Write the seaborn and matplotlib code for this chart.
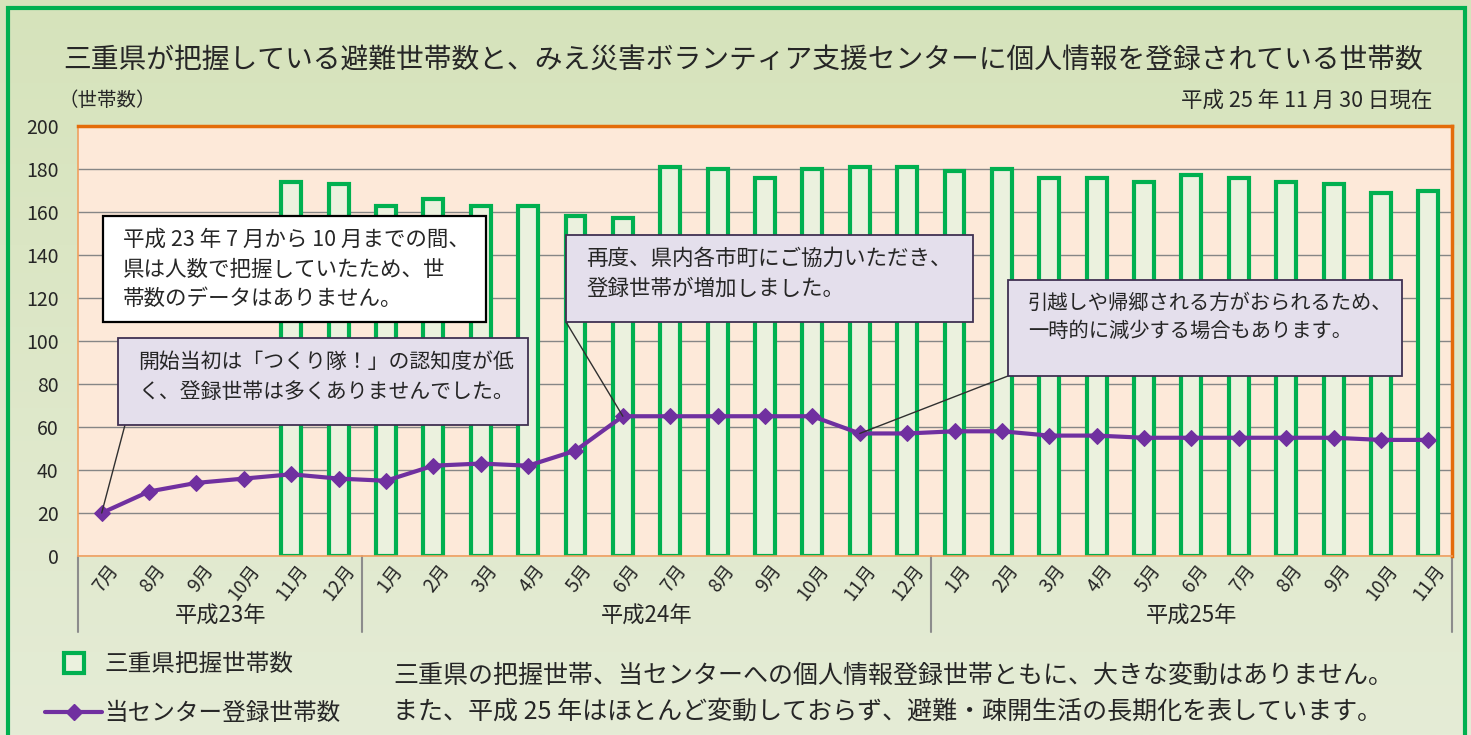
import numpy as np
import pandas as pd
import matplotlib.pyplot as plt
import seaborn as sns
from matplotlib.lines import Line2D
from matplotlib.patches import Rectangle, ConnectionPatch
from matplotlib.colors import LinearSegmentedColormap
import matplotlib.transforms as mtrans

sns.set_style("white")
plt.rcParams['font.family'] = ['Noto Sans CJK JP', 'DejaVu Sans']

# data
months = ["7月", "8月", "9月", "10月", "11月", "12月",
          "1月", "2月", "3月", "4月", "5月", "6月", "7月", "8月", "9月", "10月", "11月", "12月",
          "1月", "2月", "3月", "4月", "5月", "6月", "7月", "8月", "9月", "10月", "11月"]
years = ["平成23年", "平成24年", "平成25年"]
year_len = [6, 12, 11]
pref_households = [np.nan, np.nan, np.nan, np.nan, 174, 173,
                   163, 166, 163, 163, 158, 157, 181, 180, 176, 180, 181, 181,
                   179, 180, 176, 176, 174, 177, 176, 174, 173, 169, 170]
center_households = [20, 30, 34, 36, 38, 36,
                     35, 42, 43, 42, 49, 65, 65, 65, 65, 65, 57, 57,
                     58, 58, 56, 56, 55, 55, 55, 55, 55, 54, 54]

df = pd.DataFrame({"pos": np.arange(len(months)),
                   "pref": pref_households,
                   "center": center_households})

GREEN = '#00b050'
PURPLE = '#7030a0'
W, H = 1471, 735

fig = plt.figure(figsize=(W / 100, H / 100), dpi=100)

# background gradient + outer frame
bg = fig.add_axes([0, 0, 1, 1], zorder=-10)
grad = np.linspace(0, 1, 256).reshape(-1, 1)
cmap = LinearSegmentedColormap.from_list("bg", ['#d6e3bb', '#e5ecd6'])
bg.imshow(grad, aspect='auto', cmap=cmap, extent=[0, 1, 0, 1], origin='upper')
bg.set_xlim(0, 1); bg.set_ylim(0, 1)
bg.axis('off')
bg.add_patch(Rectangle((8 / W, -0.05), (1465 - 8) / W, 1.05 - 8 / H,
                       fill=False, ec=GREEN, lw=3))

ax = fig.add_axes([78 / W, 1 - 556 / H, (1452 - 78) / W, (556 - 126) / H])
ax.set_facecolor('#fde9d9')

sns.barplot(data=df, x="pos", y="pref", order=list(range(len(months))),
            color='#ebf1de', saturation=1, width=0.42,
            edgecolor=GREEN, linewidth=3, ax=ax, zorder=2)
sns.lineplot(data=df, x="pos", y="center", color=PURPLE, lw=3,
             marker='D', markersize=8, markeredgecolor=PURPLE, ax=ax, zorder=4)

ax.set_xlim(-0.5, len(months) - 0.5)
ax.set_ylim(0, 200)
ax.set_yticks(range(0, 201, 20))
ax.yaxis.grid(True, color='#868686', lw=1, zorder=0)
ax.set_axisbelow(True)
ax.set_xticks(np.arange(len(months)) + 0.1)
ax.set_xticklabels(months, rotation=52, ha='right', rotation_mode='anchor', fontsize=13.5)
ax.tick_params(axis='x', length=0, pad=3)
ax.tick_params(axis='y', length=0, pad=14, labelsize=14)
ax.set_xlabel("")
ax.set_ylabel("")
for s in ['top', 'right']:
    ax.spines[s].set_color('#e46c0a')
    ax.spines[s].set_linewidth(2.5)
for s in ['left', 'bottom']:
    ax.spines[s].set_color('#f0a060')
    ax.spines[s].set_linewidth(1.2)

# year groups
trans = mtrans.blended_transform_factory(ax.transData, ax.transAxes)
edges = np.concatenate([[0], np.cumsum(year_len)]) - 0.5
for e in edges:
    ax.plot([e, e], [0, -0.177], transform=trans, color='#8c8c8c', lw=1.5, clip_on=False)
for yr, a, b in zip(years, edges[:-1], edges[1:]):
    ax.text((a + b) / 2, -0.14, yr, transform=trans, ha='center', va='center', fontsize=16)

# titles
fig.text(0.505, 1 - 60 / H, "三重県が把握している避難世帯数と、みえ災害ボランティア支援センターに個人情報を登録されている世帯数",
         ha='center', va='center', fontsize=20)
fig.text(58 / W, 1 - 101 / H, "（世帯数）", ha='left', va='center', fontsize=14)
fig.text(1432 / W, 1 - 101 / H, "平成 25 年 11 月 30 日現在", ha='right', va='center', fontsize=15.5)


# callouts: box in figure pixels (left, top, width, height)
def callout(box, text, fs, fc, ec, lw, target=None, corner=(0, 0)):
    left, top, bw, bh = box
    fig.add_artist(Rectangle((left / W, 1 - (top + bh) / H), bw / W, bh / H,
                             transform=fig.transFigure, fc=fc, ec=ec, lw=lw, zorder=6))
    fig.text((left + 20) / W, 1 - (top + 13) / H, text, ha='left', va='top',
             fontsize=fs, linespacing=1.45, zorder=7)
    if target is not None:
        cx = left + corner[0] * bw
        cy = H - (top + bh) + corner[1] * bh
        fig.add_artist(ConnectionPatch((cx, cy), target, coordsA='figure pixels',
                                       coordsB=ax.transData, color='#303030', lw=1, zorder=5))


lav_fc, lav_ec = '#e4dfec', '#403152'
callout((103, 216, 383, 106), "平成 23 年 7 月から 10 月までの間、\n県は人数で把握していたため、世\n帯数のデータはありません。",
        15.5, 'white', 'black', 1.6)
callout((118, 338, 410, 87), "開始当初は「つくり隊！」の認知度が低\nく、登録世帯は多くありませんでした。",
        15, lav_fc, lav_ec, 1.3, target=(0, center_households[0]), corner=(0.017, 0))
callout((566, 235, 407, 87), "再度、県内各市町にご協力いただき、\n登録世帯が増加しました。",
        15.5, lav_fc, lav_ec, 1.3, target=(11, center_households[11]))
callout((1008, 280, 394, 96), "引越しや帰郷される方がおられるため、\n一時的に減少する場合もあります。",
        14.6, lav_fc, lav_ec, 1.3, target=(16, center_households[16]))

# legend
handles = [Line2D([], [], ls='none', marker='s', ms=15, mfc='#ebf1de', mec=GREEN, mew=3),
           Line2D([], [], color=PURPLE, lw=3, marker='D', ms=8)]
fig.legend(handles, ["三重県把握世帯数", "当センター登録世帯数"], loc='upper left',
           bbox_to_anchor=(24 / W, 1 - 632 / H), frameon=False, fontsize=17,
           labelspacing=1.1, handlelength=2.4, handletextpad=0.1)

fig.text(393 / W, 1 - 676 / H, "三重県の把握世帯、当センターへの個人情報登録世帯ともに、大きな変動はありません。",
         ha='left', va='center', fontsize=18)
fig.text(393 / W, 1 - 712 / H, "また、平成 25 年はほとんど変動しておらず、避難・疎開生活の長期化を表しています。",
         ha='left', va='center', fontsize=18)

fig.savefig("out.png", dpi=100)
